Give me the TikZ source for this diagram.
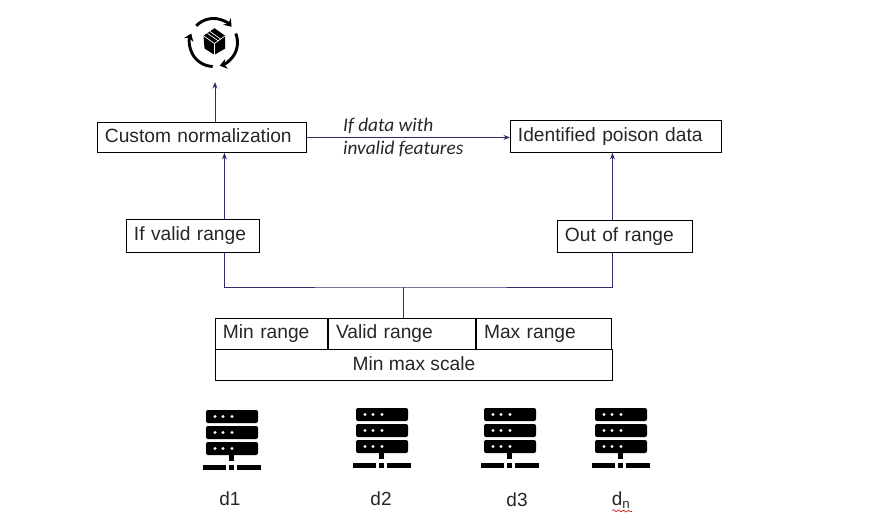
\documentclass[tikz,border=0pt]{standalone}
\usepackage{fontspec}
\setmainfont{Liberation Sans}
\newfontfamily\notefont{Carlito}
\usetikzlibrary{arrows.meta,positioning,decorations.pathmorphing}
\definecolor{flowblue}{HTML}{2E2E6B}
\definecolor{inkgray}{HTML}{262626}
\tikzset{
 box/.style={draw=black,line width=0.9pt,text=inkgray,font=\fontsize{19.2}{21}\selectfont,
  text height=14pt,text depth=4pt,inner xsep=7.5pt,inner ysep=0pt,anchor=north west},
 cell/.style={box,minimum height=30.5pt},
 flow/.style={draw=flowblue,line width=1pt,-{Stealth[length=6.5pt,width=5pt]}},
 bus/.style={draw=flowblue,line width=1pt},
 hostlabel/.style={text=inkgray,font=\fontsize{19}{21}\selectfont},
 cycle/.style={black,line width=2.9pt,-{Stealth[length=7pt,width=10pt]}},
 rack/.pic={
  \foreach \y in {0,16,32}{
   \fill[black,rounded corners=2pt](-26,\y) rectangle (26,\y+13);
   \foreach \x in {-17,-9,0}{
    \fill[white](\x,\y+6.5) circle (1.7);
   }
  }
  \fill[black](-3,45) rectangle (2,51);
  \fill[black](-29,55) rectangle (-6,60);
  \fill[black](-3,55) rectangle (2,60);
  \fill[black](5,55) rectangle (29,60);
 }
}
\begin{document}
\begin{tikzpicture}[x=1pt,y=-1pt]
 \useasboundingbox (0,0) rectangle (886,527);
 % boxes
 \node[box,text width=194pt,minimum height=30pt] (custom) at (97,122) {Custom normalization};
 \node[box,text width=196pt,minimum height=32pt] (poison) at (510,120) {Identified poison data};
 \node[box,text width=118pt,minimum height=33pt] (ifvalid) at (126,219) {If valid range};
 \node[box,text width=120pt,minimum height=32pt] (outrange) at (557,220) {Out of range};
 % scale table
 \node[cell,text width=97.2pt] (minrange) at (215,318) {Min range};
 \node[cell,text width=132.1pt,right=0pt of minrange] (validrange) {Valid range};
 \node[cell,text width=120.1pt,right=0pt of validrange] (maxrange) {Max range};
 \node[box,minimum width=397pt,minimum height=31pt,below right=0pt and 0pt of minrange.south west] (scale) {Min max scale};
 % connectors
 \coordinate (pkgin) at (215,82);
 \coordinate (busmid) at (403,287);
 \draw[flow] (custom.north -| pkgin) -- (pkgin);
 \draw[flow] ([xshift=31.5pt]ifvalid.north) -- ([xshift=31.5pt]ifvalid.north |- custom.south);
 \draw[flow] ([xshift=-12.5pt]outrange.north) -- ([xshift=-12.5pt]outrange.north |- poison.south);
 \draw[flow] (custom.east) -- (custom.east -| poison.west);
 \draw[bus] ([xshift=31.5pt]ifvalid.south) |- (busmid) -| ([xshift=-12.5pt]outrange.south);
 \draw[bus] (busmid) -- (busmid |- validrange.north);
 \node[anchor=west,align=left,text=inkgray,font=\notefont\itshape\fontsize{19.3}{23}\selectfont,inner sep=0pt] (note) at (343,137.5) {If data with\\invalid features};
 % package icon
 \begin{scope}[shift={(213.5,42.5)},y=1pt]
  \draw[cycle] (136:24) arc (136:41:24);
  \draw[cycle] (22:24) arc (22:-75:24);
  \draw[cycle] (-92:24) arc (-92:-202:24);
  \fill[black] (1,14.3) -- (11.7,6.7) -- (11.7,-6) -- (1,-12.3) -- (-9,-6) -- (-10,6.7) -- cycle;
  \draw[white,line width=0.7pt] (-10,6.7) -- (1,-1) -- (11.7,6.7) (1,-1) -- (1,-12.3);
  \draw[white,line width=0.7pt] (-3.5,11) -- (7,3.5) (-6,9.2) -- (4.5,1.8);
 \end{scope}
 % hosts
 \pic at (232,410) {rack};
 \pic at (382,408) {rack};
 \pic at (510,408) {rack};
 \pic at (621,408) {rack};
 \node[hostlabel] (dhost1) at (230,499) {d1};
 \node[hostlabel] (dhost2) at (381,499) {d2};
 \node[hostlabel] (dhost3) at (517,500) {d3};
 \node[hostlabel] (dhostn) at (621,500) {d\textsubscript{n}};
 \draw[red!80!black,line width=0.6pt,decorate,decoration={snake,amplitude=0.9pt,segment length=5pt}] (612,510.5) -- (632,511.5);
\end{tikzpicture}
\end{document}
